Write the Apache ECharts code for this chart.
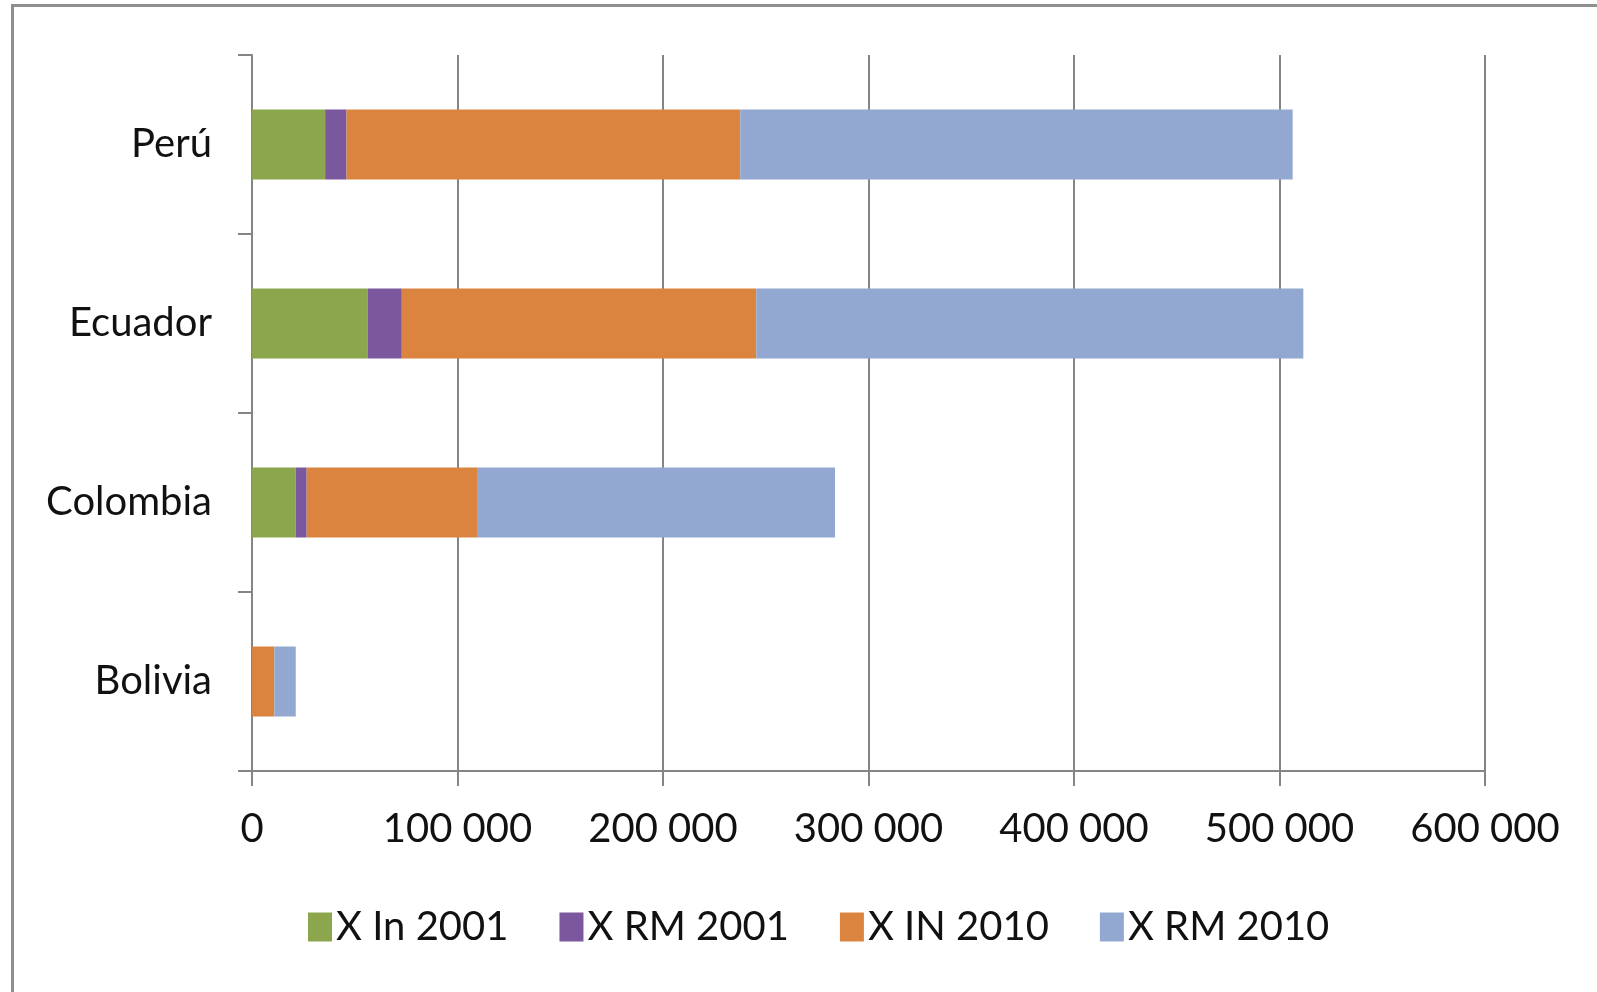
<!DOCTYPE html>
<html>
<head>
<meta charset="utf-8">
<script src="https://cdn.jsdelivr.net/npm/echarts@6/dist/echarts.min.js"></script>
<style>
html,body{margin:0;padding:0;background:#fff;}
#frame{position:absolute;left:11px;top:4px;width:1600px;height:1000px;border-left:3px solid #8f8f8f;border-top:3px solid #8f8f8f;}
#chart{position:absolute;left:0;top:0;width:1597px;height:992px;}
</style>
</head>
<body>
<div id="frame"></div>
<div id="chart"></div>
<script>
const categories = ['Bolivia', 'Colombia', 'Ecuador', 'Perú'];
const seriesNames = ['X In 2001', 'X RM 2001', 'X IN 2010', 'X RM 2010'];
const xIn2001 = [0, 21300, 56400, 35600];
const xRm2001 = [0, 5300, 16500, 10400];
const xIn2010 = [10900, 82900, 172500, 191600];
const xRm2010 = [10400, 174200, 266200, 268800];
const xTicks = [0, 100000, 200000, 300000, 400000, 500000, 600000];

const colors = ['#8ca64d', '#7b589e', '#da8440', '#93a8d0'];
const values = [xIn2001, xRm2001, xIn2010, xRm2010];
const font = 'Lato';

const chart = echarts.init(document.getElementById('chart'));
chart.setOption({
  animation: false,
  backgroundColor: 'transparent',
  color: colors,
  grid: { left: 252, right: 112, top: 55, bottom: 221, containLabel: false },
  legend: {
    bottom: 40,
    left: 303,
    itemWidth: 24,
    itemHeight: 29,
    itemGap: 51,
    icon: 'rect',
    textStyle: { fontFamily: font, fontSize: 40, color: '#111', padding: [0, 0, 0, -1] },
    data: seriesNames
  },
  xAxis: {
    type: 'value',
    min: xTicks[0],
    max: xTicks[xTicks.length - 1],
    interval: 100000,
    axisLine: { show: true, lineStyle: { color: '#858585', width: 2 } },
    axisTick: { show: true, length: 15, lineStyle: { color: '#858585', width: 2 } },
    splitLine: { show: true, lineStyle: { color: '#858585', width: 2 } },
    axisLabel: {
      margin: 38,
      fontFamily: font, fontSize: 40, color: '#111',
      formatter: v => v === 0 ? '0' : String(v).replace(/\B(?=(\d{3})+(?!\d))/g, ' ')
    }
  },
  yAxis: {
    type: 'category',
    data: categories,
    axisLine: { show: true, lineStyle: { color: '#858585', width: 2 } },
    axisTick: { show: true, length: 14, lineStyle: { color: '#858585', width: 2 } },
    axisLabel: { margin: 40, fontFamily: font, fontSize: 40, color: '#111' }
  },
  series: seriesNames.map((n, i) => ({
    name: n,
    type: 'bar',
    stack: 'total',
    barWidth: 70,
    data: values[i],
    itemStyle: { color: colors[i] }
  }))
});
</script>
</body>
</html>
